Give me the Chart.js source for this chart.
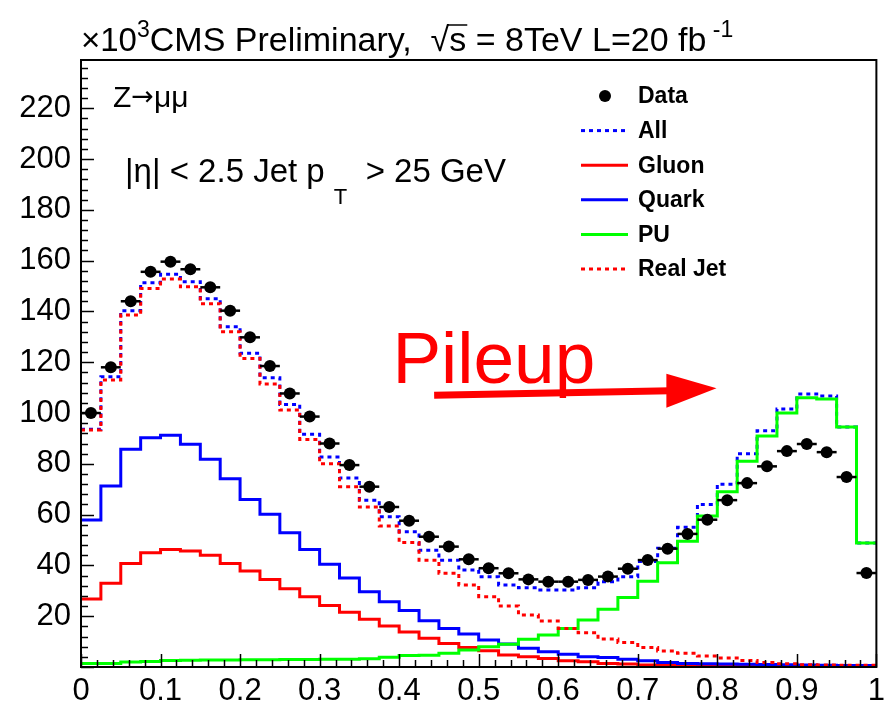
<!DOCTYPE html>
<html>
<head>
<meta charset="utf-8">
<script src="https://cdn.jsdelivr.net/npm/chart.js@4.4.0/dist/chart.umd.min.js"></script>
<style>
html, body { margin: 0; padding: 0; background: #fff; }
#wrap { width: 891px; height: 712px; }
</style>
</head>
<body>
<div id="wrap"><canvas id="qgChart" width="891" height="712"></canvas></div>
<script>
// histogram binning: 40 bins between 0 and 1, counts in units of 10^3
const xMin = 0, xMax = 1, nBins = 40;
const binW = (xMax - xMin) / nBins;

const dataCounts = [100, 118, 144, 155.6, 159.6, 156.6, 149.5, 140.3, 129.8, 118.5,
  107.7, 98.6, 88, 79.5, 71, 63, 57.6, 51.3, 47.4, 42.4,
  38.9, 36.9, 34.5, 33.6, 33.6, 34.3, 35.6, 38.7, 42.1, 46.6,
  52.4, 58, 65.7, 72.4, 79, 85, 87.8, 84.6, 74.8, 37];

const allMC = [93.6, 114.3, 140.3, 151.3, 154.6, 151.7, 145, 134, 123.5, 113.9,
  103.4, 91.6, 82.7, 74.4, 65.7, 59.2, 53.3, 46, 42, 38.2,
  35.5, 32.3, 31.2, 30.3, 30.3, 31.2, 33.6, 35.5, 41.5, 46.8,
  55, 64, 72, 84, 93, 101.6, 107.5, 106.7, 94.5, 48.8];

const gluon = [26.8, 33, 40.8, 45, 46.3, 45.7, 44, 40.8, 37.8, 34.5,
  30.8, 27.7, 24.2, 21.6, 18.8, 16.1, 13.8, 11.3, 9.3, 7.7,
  6.4, 4.7, 4, 3.3, 2.5, 2.1, 1.4, 1.2, 0.8, 0.6,
  0.5, 0.5, 0.4, 0.4, 0.4, 0.3, 0.3, 0.3, 0.3, 0.3];

const quark = [57.9, 71.3, 85.7, 90.3, 91.2, 87.7, 81.8, 74.1, 66, 60.1,
  52.9, 46.3, 40.5, 35, 29.6, 25.7, 22.2, 18.2, 15.2, 13,
  10.6, 9.1, 7.4, 6, 5, 4, 3.7, 3.1, 2.5, 1.8,
  1.4, 1.3, 1.2, 1.1, 1, 0.9, 0.8, 0.7, 0.6, 0.6];

const pileup = [1.4, 1.4, 2.0, 2.2, 2.6, 2.7, 2.8, 2.8, 2.9, 2.9,
  3.0, 3.0, 3.1, 3.1, 3.2, 3.8, 4.5, 4.6, 5.4, 6.7,
  8, 9, 10.9, 12.6, 15.2, 18.5, 22.7, 27.4, 33.8, 41,
  49.5, 59.5, 69, 81, 91, 100, 106, 105.5, 94.5, 48.8];

const realJet = [93.3, 113, 138.6, 149, 152.8, 149.7, 143, 132, 121.5, 111.4,
  101.2, 89.6, 80, 71, 63, 55.5, 49, 42, 36.9, 32.3,
  27.7, 24, 20.5, 18.1, 15.2, 13.5, 11, 9.6, 7.7, 6.3,
  5.4, 4.3, 3.5, 2.6, 1.8, 1.3, 0.9, 0.8, 0.7, 0.7];

const yMax = 239;
const FONT = '"Liberation Sans", Arial, sans-serif';

// step histogram: one point per lower bin edge plus the last upper edge
function histPoints(vals) {
  const pts = vals.map((v, i) => ({ x: xMin + i * binW, y: v }));
  pts.push({ x: xMax, y: vals[vals.length - 1] });
  return pts;
}

function histSet(label, vals, color, dashed) {
  return {
    label: label,
    data: histPoints(vals),
    borderColor: color,
    borderWidth: 3,
    borderDash: dashed ? [4, 4] : [],
    stepped: 'before',
    pointRadius: 0,
    fill: false
  };
}

const dataSet = {
  label: 'Data',
  data: dataCounts.map((v, i) => ({ x: xMin + (i + 0.5) * binW, y: v })),
  showLine: false,
  pointRadius: 6,
  pointBackgroundColor: '#000',
  pointBorderColor: '#000',
  pointBorderWidth: 0
};

// first dataset ends up on top
const datasets = [
  dataSet,
  histSet('Real Jet', realJet, '#ff0000', true),
  histSet('PU', pileup, '#00ff00', false),
  histSet('Quark', quark, '#0000ff', false),
  histSet('Gluon', gluon, '#ff0000', false),
  histSet('All', allMC, '#0000ff', true)
];

const legendOrder = ['Data', 'All', 'Gluon', 'Quark', 'PU', 'Real Jet'];

function drawRich(ctx, parts, x, y) {
  // parts: [text, size, dy, bold, family]
  parts.forEach(p => {
    ctx.font = (p[3] ? 'bold ' : '') + p[1] + 'px ' + (p[4] || FONT);
    ctx.fillText(p[0], x, y + p[2]);
    x += ctx.measureText(p[0]).width;
  });
  return x;
}

const hepDecor = {
  id: 'hepDecor',
  afterDatasetsDraw(chart) {
    const { ctx, scales: { x, y } } = chart;
    ctx.save();
    // horizontal error bars = bin width
    ctx.strokeStyle = '#000';
    ctx.lineWidth = 2.5;
    dataCounts.forEach((v, i) => {
      const lo = xMin + i * binW;
      const py = y.getPixelForValue(v);
      ctx.beginPath();
      ctx.moveTo(x.getPixelForValue(lo), py);
      ctx.lineTo(x.getPixelForValue(lo + binW), py);
      ctx.stroke();
    });
    ctx.restore();
  },
  afterDraw(chart) {
    const { ctx, chartArea: a, scales: { x, y } } = chart;
    ctx.save();

    // frame
    ctx.strokeStyle = '#000';
    ctx.lineWidth = 2;
    ctx.strokeRect(a.left, a.top, a.right - a.left, a.bottom - a.top);

    // ticks pointing inwards
    ctx.lineWidth = 1.5;
    for (let v = 0; v <= yMax + 1e-9; v += 4) {
      const py = Math.round(y.getPixelForValue(v)) + 0.5;
      const len = (v % 20 === 0) ? 13 : 7;
      ctx.beginPath();
      ctx.moveTo(a.left, py);
      ctx.lineTo(a.left + len, py);
      ctx.stroke();
    }
    for (let k = 0; k <= 50; k++) {
      const px = Math.round(x.getPixelForValue(k * 0.02)) + 0.5;
      const len = (k % 5 === 0) ? 13 : 7;
      ctx.beginPath();
      ctx.moveTo(px, a.bottom);
      ctx.lineTo(px, a.bottom - len);
      ctx.stroke();
    }

    // header
    ctx.fillStyle = '#000';
    ctx.textBaseline = 'alphabetic';
    let tx = drawRich(ctx, [['\u00d710', 33, 0], ['3', 23, -14], ['CMS Preliminary,  ', 34, 0]], 81, 51);
    ctx.font = '34px ' + FONT;
    ctx.fillText('\u221a', tx, 51);
    tx += ctx.measureText('\u221a').width;
    const sW = ctx.measureText('s').width;
    ctx.fillText('s', tx, 51);
    ctx.lineWidth = 1.5;
    ctx.beginPath();
    ctx.moveTo(tx - 2, 25);
    ctx.lineTo(tx + sW + 1, 25);
    ctx.stroke();
    tx += sW;
    drawRich(ctx, [[' = 8TeV L=20 fb', 34, 0], [' -1', 23, -14]], tx, 51);

    // labels inside the frame
    drawRich(ctx, [['Z', 30, 0], ['\u2192', 27, -2, false, '"DejaVu Sans", sans-serif'], ['\u03bc\u03bc', 30, 0]], a.left + 32, 107);
    drawRich(ctx, [['|\u03b7| < 2.5 Jet p', 33, 0], [' ', 33, 0], ['T', 22, 22], ['  > 25 GeV', 33, 0]], a.left + 44, 182);

    // legend
    const lx = 581, ly = 96, step = 34.6;
    legendOrder.forEach((name, i) => {
      const ds = chart.data.datasets.find(d => d.label === name);
      const cy = ly + i * step;
      if (name === 'Data') {
        ctx.fillStyle = '#000';
        ctx.beginPath();
        ctx.arc(lx + 24, cy, 6, 0, Math.PI * 2);
        ctx.fill();
      } else {
        ctx.strokeStyle = ds.borderColor;
        ctx.lineWidth = 3;
        ctx.setLineDash(ds.borderDash);
        ctx.beginPath();
        ctx.moveTo(lx, cy);
        ctx.lineTo(lx + 47, cy);
        ctx.stroke();
        ctx.setLineDash([]);
      }
      ctx.fillStyle = '#000';
      ctx.font = 'bold 23px ' + FONT;
      ctx.textBaseline = 'middle';
      ctx.fillText(name, lx + 57, cy + 1);
    });
    ctx.textBaseline = 'alphabetic';

    // "Pileup" annotation with arrow
    ctx.fillStyle = '#ff0000';
    ctx.font = '73px ' + FONT;
    ctx.fillText('Pileup', x.getPixelForValue(0.3915), y.getPixelForValue(111.8));
    const tailX = x.getPixelForValue(0.444), tailY = y.getPixelForValue(107);
    const baseX = x.getPixelForValue(0.736), baseY = y.getPixelForValue(108.8);
    const tipX = x.getPixelForValue(0.799), tipY = y.getPixelForValue(109.8);
    ctx.strokeStyle = '#ff0000';
    ctx.lineWidth = 7;
    ctx.beginPath();
    ctx.moveTo(tailX, tailY);
    ctx.lineTo(baseX + 4, baseY);
    ctx.stroke();
    ctx.beginPath();
    ctx.moveTo(tipX, tipY);
    ctx.lineTo(baseX, baseY - 17);
    ctx.lineTo(baseX, baseY + 17);
    ctx.closePath();
    ctx.fill();

    ctx.restore();
  }
};

new Chart(document.getElementById('qgChart').getContext('2d'), {
  type: 'line',
  data: { datasets: datasets },
  options: {
    responsive: false,
    animation: false,
    layout: { padding: { left: 0, top: 60, right: 8, bottom: 0 } },
    plugins: {
      legend: { display: false },
      title: { display: false },
      tooltip: { enabled: false }
    },
    scales: {
      x: {
        type: 'linear',
        min: xMin,
        max: xMax,
        afterFit: s => { s.height = 45; },
        grid: { display: false, drawTicks: false },
        border: { display: false },
        ticks: {
          stepSize: 0.1,
          padding: 6,
          maxRotation: 0,
          autoSkip: false,
          color: '#000',
          font: { family: FONT, size: 31 },
          callback: v => {
            const r = Math.round(v * 10) / 10;
            return Math.abs(v - r) < 1e-6 ? String(r) : '';
          }
        }
      },
      y: {
        type: 'linear',
        min: 0,
        max: yMax,
        afterFit: s => { s.width = 81; },
        grid: { display: false, drawTicks: false },
        border: { display: false },
        ticks: {
          stepSize: 20,
          padding: 10,
          color: '#000',
          font: { family: FONT, size: 31 },
          callback: v => (v !== 0 && v % 20 === 0) ? String(v) : ''
        }
      }
    }
  },
  plugins: [hepDecor]
});
</script>
</body>
</html>
